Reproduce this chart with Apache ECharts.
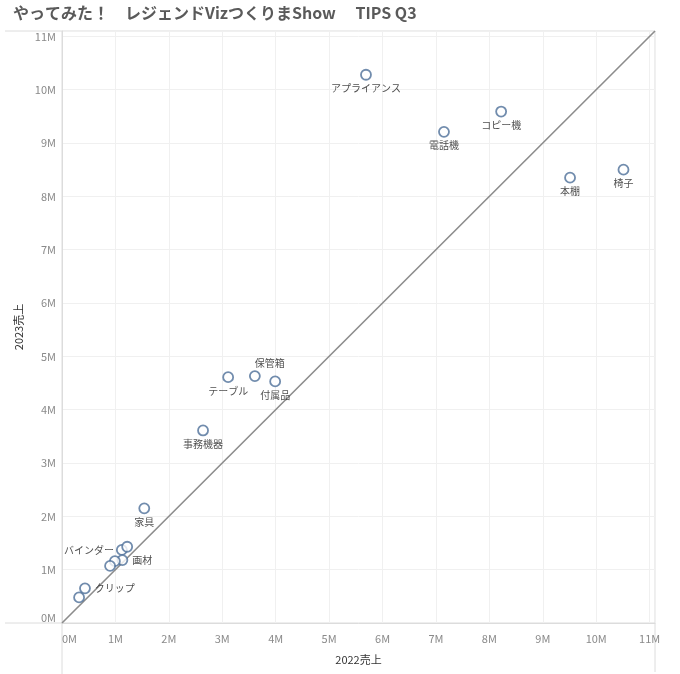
<!DOCTYPE html>
<html>
<head>
<meta charset="utf-8">
<script src="https://cdn.jsdelivr.net/npm/echarts@6/dist/echarts.min.js"></script>
<style>
  html, body { margin: 0; padding: 0; background: #fff; }
  #chart { width: 680px; height: 674px; }
</style>
</head>
<body>
<div id="chart"></div>
<script>
// サブカテゴリ別の売上（単位: 百万）
const categories = ['アプライアンス', 'コピー機', '電話機', '本棚', '椅子', '保管箱', 'テーブル', '付属品', '事務機器', '家具', 'バインダー', '画材', 'クリップ', '紙', 'ラベル', '封筒', '文房具'];
const sales2022 = [5.69, 8.22, 7.15, 9.51, 10.51, 3.61, 3.11, 3.99, 2.64, 1.54, 1.12, 1.13, 0.43, 1.22, 0.99, 0.90, 0.32];
const sales2023 = [10.28, 9.59, 9.21, 8.35, 8.50, 4.63, 4.61, 4.53, 3.61, 2.15, 1.37, 1.18, 0.65, 1.43, 1.16, 1.07, 0.48];
const labeled = ['アプライアンス', 'コピー機', '電話機', '本棚', '椅子', '保管箱', 'テーブル', '付属品', '事務機器', '家具', 'バインダー', '画材', 'クリップ'];
const axisMax = 11.1;

// ラベルの置き場所（指定なしは下）
const labelPlace = {
  '保管箱': {position: 'top', distance: 2},
  'バインダー': {position: 'left', distance: 2},
  '画材': {position: 'right', distance: 4},
  'クリップ': {position: 'right', distance: 4}
};
// 保管箱だけ右にずらす
const labelShift = {'保管箱': 15};

const myChart = echarts.init(document.getElementById('chart'));

let points = [];
for (let i in categories) {
  let name = categories[i];
  let show = labeled.indexOf(name) != -1;
  let place = labelPlace[name] || {position: 'bottom', distance: 3};
  points.push({
    name: name,
    value: [sales2022[i] * 1e6, sales2023[i] * 1e6],
    label: Object.assign({show: show}, place)
  });
}

const font = '"Noto Sans CJK JP", "Noto Sans", sans-serif';
const edge = '#dcdcdc';

let option = {
  animation: false,
  textStyle: {fontFamily: font},
  title: {
    left: 8,
    top: 0,
    text: '{n|やってみた！　レジェンド}{b|Viz}{n|つくりま}{b|Show}{n|　 }{b|TIPS Q3}',
    textStyle: {
      rich: {
        n: {fontSize: 16, color: '#5a5a5a', fontFamily: font},
        b: {fontSize: 16, color: '#5a5a5a', fontWeight: 'bold', fontFamily: font}
      }
    }
  },
  grid: {
    left: 62, right: 25, top: 31, bottom: 51,
    show: true, borderColor: edge, borderWidth: 1
  },
  // 枠線の延長（Tableau 風）
  graphic: [
    {type: 'line', shape: {x1: 5, y1: 623, x2: 62, y2: 623}, style: {stroke: edge, lineWidth: 1}, silent: true},
    {type: 'line', shape: {x1: 5, y1: 31, x2: 62, y2: 31}, style: {stroke: edge, lineWidth: 1}, silent: true},
    {type: 'line', shape: {x1: 62, y1: 623, x2: 62, y2: 674}, style: {stroke: edge, lineWidth: 1}, silent: true},
    {type: 'line', shape: {x1: 655, y1: 623, x2: 655, y2: 672}, style: {stroke: edge, lineWidth: 1}, silent: true}
  ],
  xAxis: {
    type: 'value',
    min: 0, max: axisMax * 1e6, interval: 1e6,
    name: '2022売上',
    nameLocation: 'middle',
    nameGap: 31,
    nameTextStyle: {fontSize: 11, color: '#333', fontFamily: font},
    axisLine: {show: true, lineStyle: {color: edge}},
    axisTick: {show: false},
    axisLabel: {
      fontSize: 11, color: '#8a8a8a', margin: 10,
      alignMinLabel: 'left',
      formatter: function (v) { return (v / 1e6) + 'M'; }
    },
    splitLine: {lineStyle: {color: '#f0f0f0'}}
  },
  yAxis: {
    type: 'value',
    min: 0, max: axisMax * 1e6, interval: 1e6,
    name: '2023売上',
    nameLocation: 'middle',
    nameGap: 36,
    nameTextStyle: {fontSize: 11, color: '#333', fontFamily: font},
    axisLine: {show: true, lineStyle: {color: edge}},
    axisTick: {show: false},
    axisLabel: {
      fontSize: 11, color: '#8a8a8a', margin: 6,
      verticalAlignMinLabel: 'bottom',
      formatter: function (v) { return (v / 1e6) + 'M'; }
    },
    splitLine: {lineStyle: {color: '#f0f0f0'}}
  },
  series: [{
    // 基準線 y = x
    type: 'line',
    data: [[0, 0], [axisMax * 1e6, axisMax * 1e6]],
    symbol: 'none',
    lineStyle: {color: '#8c8c8c', width: 1.6},
    silent: true,
    z: 1
  }, {
    type: 'scatter',
    data: points,
    symbol: 'circle',
    symbolSize: 10,
    itemStyle: {color: '#fff', borderColor: '#4e6f99', borderWidth: 1.8},
    label: {
      formatter: '{b}',
      fontSize: 10,
      color: '#222',
      fontFamily: font
    },
    labelLayout: function (params) {
      let name = categories[params.dataIndex];
      return {dx: labelShift[name] || 0, hideOverlap: false};
    },
    z: 3
  }]
};

myChart.setOption(option);
</script>
</body>
</html>
